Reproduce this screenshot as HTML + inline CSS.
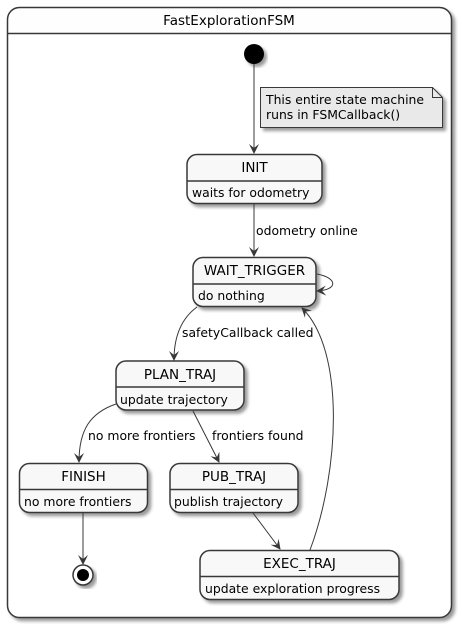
<!DOCTYPE html>
<html><head><meta charset="utf-8"><style>
html,body{margin:0;padding:0;background:#fff;}
svg{display:block;}
text{font-family:"DejaVu Sans","Liberation Sans",sans-serif;font-size:12.4px;fill:#000;}
text.t{font-size:13.5px;}
</style></head><body>
<svg width="462" height="629" viewBox="0 0 462 629" xmlns="http://www.w3.org/2000/svg">
<defs>
<filter id="sh" x="-10%" y="-10%" width="130%" height="130%">
<feGaussianBlur in="SourceAlpha" stdDeviation="1.5"/>
<feOffset dx="3" dy="3" result="o"/>
<feComponentTransfer><feFuncA type="linear" slope="0.4"/></feComponentTransfer>
<feMerge><feMergeNode/><feMergeNode in="SourceGraphic"/></feMerge>
</filter>
<marker id="ah" viewBox="0 0 10 10" refX="9" refY="5" markerWidth="10" markerHeight="10" markerUnits="userSpaceOnUse" orient="auto">
<path d="M0,0 L10,5 L0,10 L4,5 Z" fill="#383838"/>
</marker>
</defs>
<rect x="7.5" y="7.5" width="444" height="610" rx="12" fill="#fefefe" stroke="#383838" stroke-width="1.5" filter="url(#sh)"/>
<line x1="7.5" y1="33.5" x2="451.5" y2="33.5" stroke="#383838" stroke-width="1.5"/>
<text class="t" x="229" y="25" text-anchor="middle">FastExplorationFSM</text>
<rect x="10" y="37" width="439" height="577" rx="10" fill="#fff"/>

<circle cx="254" cy="54" r="10" fill="#000" filter="url(#sh)"/>
<line x1="254" y1="64" x2="254" y2="153" stroke="#383838" marker-end="url(#ah)"/>

<path d="M260.5,87.5 L432.5,87.5 L442.5,97.5 L442.5,127.5 L260.5,127.5 Z" fill="#e9e9e9" stroke="#383838" filter="url(#sh)"/>
<path d="M432.5,87.5 L432.5,97.5 L442.5,97.5" fill="none" stroke="#383838"/>
<text x="266" y="104">This entire state machine</text>
<text x="266" y="119">runs in FSMCallback()</text>

<g stroke="#383838" stroke-width="1.5" fill="#f8f8f8" filter="url(#sh)">
<rect x="187" y="154.5" width="135" height="49" rx="10"/>
<rect x="193" y="257.5" width="123" height="49" rx="10"/>
<rect x="116" y="361" width="128" height="49" rx="10"/>
<rect x="19.5" y="463.5" width="128" height="49" rx="10"/>
<rect x="170" y="463.5" width="128" height="49" rx="10"/>
<rect x="200" y="550.5" width="199" height="49" rx="10"/>
</g>
<g stroke="#383838" stroke-width="1.5">
<line x1="187" y1="181" x2="322" y2="181"/>
<line x1="193" y1="284" x2="316" y2="284"/>
<line x1="116" y1="387" x2="244" y2="387"/>
<line x1="19.5" y1="489.5" x2="147.5" y2="489.5"/>
<line x1="170" y1="489.5" x2="298" y2="489.5"/>
<line x1="200" y1="576.5" x2="399" y2="576.5"/>
</g>
<text class="t" x="254.5" y="172" text-anchor="middle">INIT</text>
<text x="192" y="197">waits for odometry</text>
<text class="t" x="254.5" y="275" text-anchor="middle">WAIT_TRIGGER</text>
<text x="198" y="300">do nothing</text>
<text class="t" x="180" y="379" text-anchor="middle">PLAN_TRAJ</text>
<text x="120" y="404">update trajectory</text>
<text class="t" x="83.5" y="481" text-anchor="middle">FINISH</text>
<text x="24" y="506">no more frontiers</text>
<text class="t" x="234" y="481" text-anchor="middle">PUB_TRAJ</text>
<text x="174" y="506">publish trajectory</text>
<text class="t" x="299.5" y="568" text-anchor="middle">EXEC_TRAJ</text>
<text x="205" y="593">update exploration progress</text>

<g stroke="#383838" fill="none" stroke-width="1">
<line x1="254" y1="204" x2="254" y2="256" marker-end="url(#ah)"/>
<path d="M317,274 C338,278 338,290 317,291" marker-end="url(#ah)"/>
<path d="M197,307 C182,318 174,335 174,360" marker-end="url(#ah)"/>
<path d="M310,550 C340,470 345,350 302,308" marker-end="url(#ah)"/>
<path d="M116,404 C90,413 79,430 79,462" marker-end="url(#ah)"/>
<line x1="193" y1="411" x2="219" y2="462" marker-end="url(#ah)"/>
<line x1="253" y1="513" x2="280" y2="549" marker-end="url(#ah)"/>
<line x1="83" y1="513" x2="83" y2="564" marker-end="url(#ah)"/>
</g>
<text x="256" y="235">odometry online</text>
<text x="182" y="337">safetyCallback called</text>
<text x="88" y="440">no more frontiers</text>
<text x="212" y="440">frontiers found</text>

<circle cx="83" cy="575" r="10" fill="#fff" stroke="#383838" stroke-width="1.5" filter="url(#sh)"/>
<circle cx="83" cy="575" r="6" fill="#000"/>
</svg>
</body></html>
